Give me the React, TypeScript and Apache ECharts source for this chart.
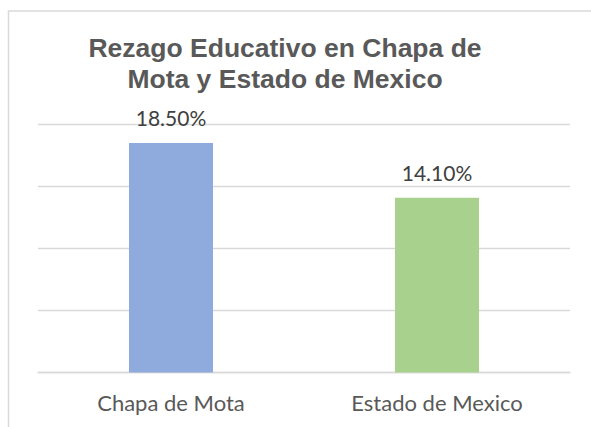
import React, { useEffect, useRef } from "react";
import * as echarts from "echarts";

const titleLines = ["Rezago Educativo en Chapa de", "Mota y Estado de Mexico"];
const categories = ["Chapa de Mota", "Estado de Mexico"];
const values = [18.5, 14.1];
const barColors = ["#8FAADC", "#A9D18E"];
const yMin = 0;
const yMax = 20;
const yInterval = 5;

export default function App() {
  const ref = useRef<HTMLDivElement>(null);

  useEffect(() => {
    if (!ref.current) return;
    const chart = echarts.init(ref.current, undefined, { renderer: "svg" });
    chart.setOption({
      animation: false,
      backgroundColor: "#ffffff",
      graphic: [
        {
          type: "rect",
          shape: { x: 8.5, y: 11, width: 800, height: 800 },
          style: { fill: "none", stroke: "#D9D9D9", lineWidth: 1.5 },
          silent: true,
        },
        {
          type: "text",
          x: 285,
          y: 32,
          style: {
            text: titleLines.join("\n"),
            textAlign: "center",
            textVerticalAlign: "top",
            fontFamily: "'Liberation Sans', Arial, sans-serif",
            fontWeight: "bold",
            fontSize: 26.5,
            lineHeight: 31,
            fill: "#595959",
          },
        },
      ],
      grid: { left: 38, right: 21, top: 124.5, bottom: 54.5, containLabel: false },
      xAxis: {
        type: "category",
        data: categories,
        axisLine: { show: true, lineStyle: { color: "#D9D9D9", width: 1.3 } },
        axisTick: { show: false },
        axisLabel: {
          color: "#595959",
          fontFamily: "Lato, 'Liberation Sans', sans-serif",
          fontSize: 22,
          lineHeight: 22,
          margin: 19,
        },
      },
      yAxis: {
        type: "value",
        min: yMin,
        max: yMax,
        interval: yInterval,
        axisLabel: { show: false },
        axisLine: { show: false },
        axisTick: { show: false },
        splitLine: { lineStyle: { color: "#D9D9D9", width: 1.3 } },
      },
      series: [
        {
          type: "bar",
          barWidth: 84,
          data: values.map((v, i) => ({ value: v, itemStyle: { color: barColors[i] } })),
          label: {
            show: true,
            position: "top",
            distance: 15,
            color: "#404040",
            fontFamily: "Lato, 'Liberation Sans', sans-serif",
            fontSize: 21,
            lineHeight: 21,
            formatter: (p: any) => `${Number(p.value).toFixed(2)}%`,
          },
        },
      ],
    });
    return () => chart.dispose();
  }, []);

  return (
    <div
      ref={ref}
      style={{ position: "fixed", left: 0, top: 0, width: 591, height: 427 }}
    />
  );
}
